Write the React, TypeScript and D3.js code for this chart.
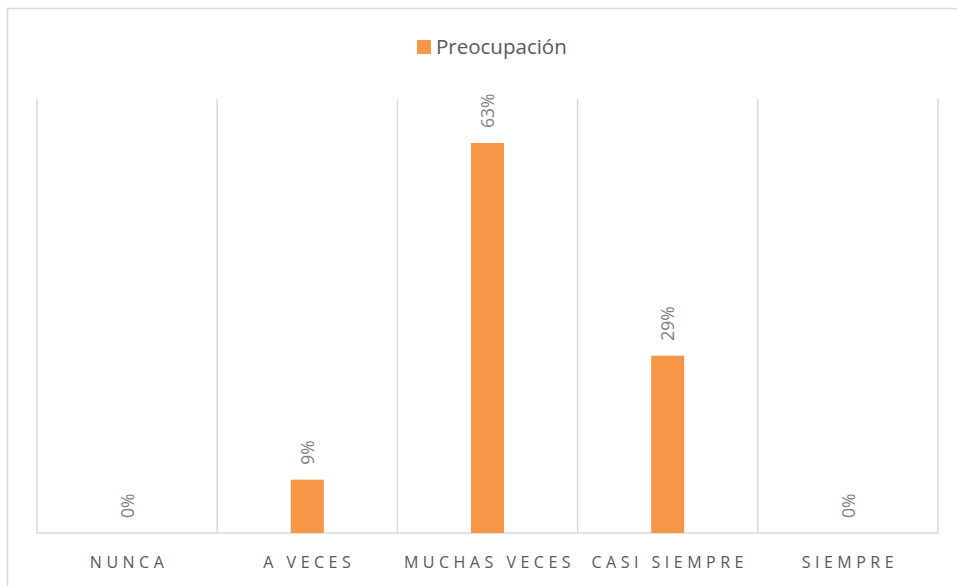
import React from "react";
import * as d3 from "d3";

const categories = ["NUNCA", "A VECES", "MUCHAS VECES", "CASI SIEMPRE", "SIEMPRE"];
const values = [0, 0.086, 0.629, 0.286, 0];
const seriesName = "Preocupación";

const W = 957;
const H = 586;
const plot = { left: 37, right: 938, top: 99, bottom: 533 };

export default function App() {
  const x = d3
    .scaleBand<string>()
    .domain(categories)
    .range([plot.left, plot.right])
    .paddingInner(0)
    .paddingOuter(0);
  const y = d3.scaleLinear().domain([0, 0.7]).range([plot.bottom, plot.top]);
  const barW = 33;
  const fmt = d3.format(".0%");
  const font = "'Open Sans', 'Liberation Sans', sans-serif";
  const gridX = categories.map((c) => x(c) as number).concat([plot.right]);

  return (
    <div style={{ position: "absolute", left: 0, top: 0 }}>
      <svg width={W} height={H} style={{ display: "block", background: "#fff" }}>
        <rect x={7.5} y={8.5} width={W + 10} height={H + 10} fill="#fff" stroke="#d9d9d9" strokeWidth={1.5} />
        {gridX.map((gx, i) => (
          <line key={i} x1={gx} x2={gx} y1={plot.top} y2={plot.bottom} stroke="#d9d9d9" strokeWidth={1.5} />
        ))}
        <line x1={plot.left} x2={plot.right} y1={plot.bottom} y2={plot.bottom} stroke="#d9d9d9" strokeWidth={1.5} />
        {categories.map((c, i) => {
          const cx = (x(c) as number) + x.bandwidth() / 2;
          const top = y(values[i]);
          return (
            <g key={c}>
              {values[i] > 0 && (
                <rect x={cx - barW / 2} y={top} width={barW} height={plot.bottom - top} fill="#f79646" />
              )}
              <text
                transform={`translate(${cx + 2},${top - 15}) rotate(-90)`}
                dominantBaseline="middle"
                fontFamily={font}
                fontSize={17.5}
                fill="#7f7f7f"
              >
                {fmt(values[i])}
              </text>
              <text
                x={cx + 2}
                y={568}
                textAnchor="middle"
                fontFamily={font}
                fontSize={16}
                letterSpacing={4.5}
                fill="#595959"
              >
                {c}
              </text>
            </g>
          );
        })}
        <rect x={417} y={40} width={14} height={14} fill="#f79646" />
        <text x={436} y={54} fontFamily={font} fontSize={20.5} fill="#595959">
          {seriesName}
        </text>
      </svg>
    </div>
  );
}
